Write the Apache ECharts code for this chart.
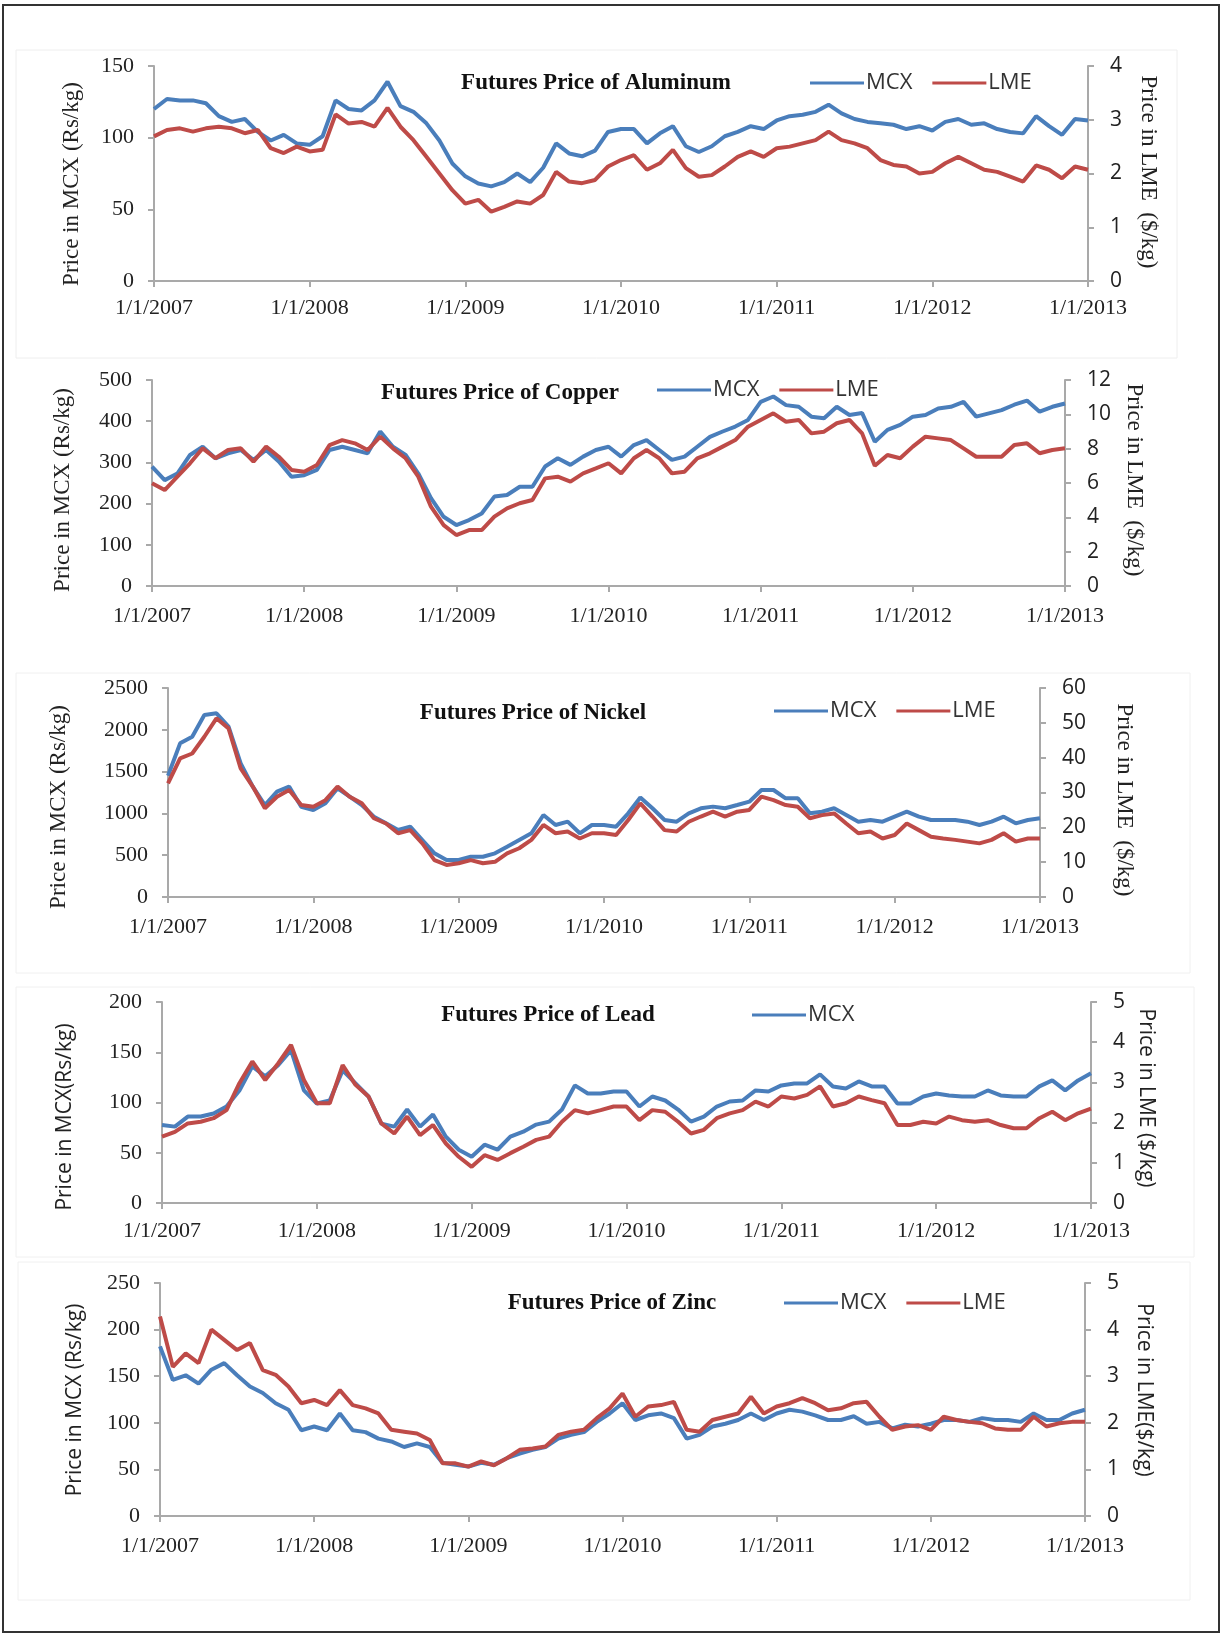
<!DOCTYPE html>
<html>
<head>
<meta charset="utf-8">
<title>Futures Price MCX vs LME</title>
<script src="https://cdn.jsdelivr.net/npm/echarts@6/dist/echarts.min.js"></script>
<style>
  html, body { margin: 0; padding: 0; background: #fff; }
  #main { width: 1225px; height: 1638px; }
</style>
</head>
<body>
<div id="main"></div>
<script>
// monthly readings, Jan 2007 .. Jan 2013 (73 points each)
var xTickLabels = ['1/1/2007', '1/1/2008', '1/1/2009', '1/1/2010', '1/1/2011', '1/1/2012', '1/1/2013'];

// Aluminum
var alMcx = [120, 127, 126, 126, 124, 115, 111, 113, 104, 98, 102, 96,
             95, 101, 126, 120, 119, 126, 139, 122, 118, 110, 98, 82,
             73, 68, 66, 69, 75, 69, 79, 96, 89, 87, 91, 104,
             106, 106, 96, 103, 108, 94, 90, 94, 101, 104, 108, 106,
             112, 115, 116, 118, 123, 117, 113, 111, 110, 109, 106, 108,
             105, 111, 113, 109, 110, 106, 104, 103, 115, 108, 102, 113,
             112];
var alLme = [2.69, 2.81, 2.84, 2.78, 2.84, 2.87, 2.84, 2.75, 2.81, 2.47, 2.38, 2.50,
             2.41, 2.44, 3.10, 2.93, 2.96, 2.87, 3.22, 2.87, 2.62, 2.31, 2.00, 1.69,
             1.44, 1.51, 1.29, 1.38, 1.48, 1.44, 1.60, 2.03, 1.85, 1.82, 1.88, 2.13,
             2.25, 2.34, 2.07, 2.19, 2.44, 2.10, 1.94, 1.97, 2.13, 2.31, 2.41, 2.31,
             2.47, 2.50, 2.56, 2.62, 2.78, 2.62, 2.56, 2.47, 2.25, 2.16, 2.13, 2.00,
             2.03, 2.19, 2.31, 2.19, 2.07, 2.03, 1.94, 1.85, 2.15, 2.07, 1.91, 2.13,
             2.07];

// Copper
var cuMcx = [290, 257, 273, 318, 338, 310, 322, 330, 306, 330, 302, 265,
             269, 282, 330, 338, 330, 322, 375, 338, 318, 273, 213, 168,
             148, 160, 176, 217, 221, 241, 241, 290, 310, 294, 314, 330,
             338, 314, 342, 354, 330, 306, 314, 338, 362, 375, 387, 403,
             447, 460, 439, 435, 411, 407, 435, 415, 420, 350, 379, 391,
             411, 415, 431, 435, 447, 411, 419, 427, 440, 450, 423, 435,
             443];
var cuLme = [5.98, 5.59, 6.37, 7.15, 8.02, 7.44, 7.92, 8.02, 7.24, 8.12, 7.53, 6.76,
             6.66, 7.05, 8.21, 8.50, 8.31, 7.92, 8.70, 8.02, 7.44, 6.37, 4.62, 3.55,
             2.97, 3.26, 3.26, 4.04, 4.52, 4.82, 5.01, 6.27, 6.37, 6.08, 6.56, 6.85,
             7.15, 6.56, 7.44, 7.92, 7.44, 6.56, 6.66, 7.44, 7.73, 8.12, 8.50, 9.28,
             9.67, 10.06, 9.57, 9.67, 8.89, 8.99, 9.48, 9.67, 8.89, 7.00, 7.63, 7.44,
             8.12, 8.70, 8.60, 8.50, 8.02, 7.53, 7.53, 7.53, 8.21, 8.31, 7.73, 7.92,
             8.02];

// Nickel
var niMcx = [1450, 1838, 1918, 2177, 2197, 2037, 1599, 1320, 1100, 1260, 1320, 1080,
             1041, 1120, 1300, 1200, 1100, 961, 881, 801, 841, 682, 522, 443,
             443, 482, 482, 522, 602, 682, 762, 981, 861, 901, 762, 861,
             861, 841, 1001, 1190, 1061, 921, 901, 1001, 1061, 1081, 1061, 1100,
             1140, 1280, 1280, 1180, 1180, 1001, 1021, 1061, 981, 901, 921, 901,
             961, 1021, 961, 921, 921, 921, 901, 861, 901, 961, 881, 921,
             941];
var niLme = [32.6, 39.8, 41.2, 46.0, 51.3, 48.4, 36.9, 31.7, 25.5, 28.8, 30.7, 26.4,
             25.9, 27.8, 31.7, 28.8, 26.9, 22.6, 21.1, 18.3, 19.2, 15.4, 10.6, 9.2,
             9.7, 10.6, 9.7, 10.1, 12.5, 14.0, 16.4, 20.7, 18.3, 18.8, 16.8, 18.3,
             18.3, 17.8, 22.1, 26.9, 23.1, 19.2, 18.8, 21.6, 23.1, 24.5, 23.1, 24.5,
             25.0, 28.8, 27.8, 26.4, 25.9, 22.6, 23.5, 24.0, 21.1, 18.3, 18.8, 16.8,
             17.8, 21.1, 19.2, 17.3, 16.8, 16.4, 15.9, 15.4, 16.4, 18.3, 15.9, 16.8,
             16.8];

// Lead
var pbMcx = [77.6, 76, 86, 86, 89, 96, 112, 136, 126, 137, 152, 112,
             99, 102, 132, 119, 106, 79, 76, 93, 76, 88, 66, 53,
             46, 58, 53, 66, 71, 78, 81, 93, 117, 109, 109, 111,
             111, 96, 106, 102, 93, 81, 86, 96, 101, 102, 112, 111,
             117, 119, 119, 128, 116, 114, 121, 116, 116, 99, 99, 106,
             109, 107, 106, 106, 112, 107, 106, 106, 116, 122, 112, 122,
             129];
var pbLme = [1.65, 1.77, 1.98, 2.02, 2.11, 2.31, 2.98, 3.52, 3.06, 3.47, 3.93, 3.06,
             2.48, 2.48, 3.43, 2.94, 2.65, 1.98, 1.73, 2.15, 1.69, 1.94, 1.48, 1.15,
             0.90, 1.19, 1.07, 1.24, 1.40, 1.57, 1.65, 2.02, 2.31, 2.23, 2.31, 2.40,
             2.40, 2.06, 2.31, 2.27, 2.02, 1.73, 1.82, 2.11, 2.23, 2.31, 2.52, 2.40,
             2.65, 2.60, 2.69, 2.90, 2.40, 2.48, 2.65, 2.56, 2.48, 1.94, 1.94, 2.02,
             1.98, 2.15, 2.06, 2.02, 2.06, 1.94, 1.86, 1.86, 2.11, 2.27, 2.06, 2.23,
             2.35];

// Zinc
var znMcx = [182, 146, 151, 142, 157, 164, 151, 139, 132, 121, 114, 92,
             96, 92, 110, 92, 90, 83, 80, 74, 78, 74, 57, 55,
             53, 57, 55, 62, 67, 71, 74, 83, 87, 90, 101, 110,
             121, 103, 108, 110, 105, 83, 87, 96, 99, 103, 110, 103,
             110, 114, 112, 108, 103, 103, 107, 99, 101, 94, 98, 96,
             99, 103, 103, 101, 105, 103, 103, 101, 110, 103, 103, 110,
             114];
var znLme = [4.28, 3.20, 3.49, 3.28, 4.00, 3.78, 3.56, 3.71, 3.13, 3.03, 2.78, 2.42,
             2.49, 2.38, 2.70, 2.38, 2.31, 2.20, 1.85, 1.81, 1.77, 1.63, 1.13, 1.13,
             1.06, 1.17, 1.09, 1.24, 1.42, 1.45, 1.49, 1.74, 1.81, 1.85, 2.10, 2.31,
             2.63, 2.13, 2.35, 2.38, 2.45, 1.85, 1.81, 2.06, 2.13, 2.20, 2.56, 2.20,
             2.35, 2.42, 2.53, 2.42, 2.27, 2.31, 2.42, 2.45, 2.13, 1.85, 1.92, 1.95,
             1.85, 2.13, 2.06, 2.02, 1.99, 1.88, 1.85, 1.85, 2.13, 1.92, 1.99, 2.02,
             2.02];

var metals = [
  { title: 'Futures Price of Aluminum', mcx: alMcx, lme: alLme, lMax: 150, lStep: 50, rMax: 4, rStep: 1,
    legend: ['MCX', 'LME'], leftName: 'Price in MCX (Rs/kg)', rightName: 'Price in LME  ($/kg)', sans: false },
  { title: 'Futures Price of Copper', mcx: cuMcx, lme: cuLme, lMax: 500, lStep: 100, rMax: 12, rStep: 2,
    legend: ['MCX', 'LME'], leftName: 'Price in MCX (Rs/kg)', rightName: 'Price in LME  ($/kg)', sans: false },
  { title: 'Futures Price of Nickel', mcx: niMcx, lme: niLme, lMax: 2500, lStep: 500, rMax: 60, rStep: 10,
    legend: ['MCX', 'LME'], leftName: 'Price in MCX (Rs/kg)', rightName: 'Price in LME  ($/kg)', sans: false },
  { title: 'Futures Price of Lead', mcx: pbMcx, lme: pbLme, lMax: 200, lStep: 50, rMax: 5, rStep: 1,
    legend: ['MCX'], leftName: 'Price in MCX(Rs/kg)', rightName: 'Price in LME ($/kg)', sans: true },
  { title: 'Futures Price of Zinc', mcx: znMcx, lme: znLme, lMax: 250, lStep: 50, rMax: 5, rStep: 1,
    legend: ['MCX', 'LME'], leftName: 'Price in MCX (Rs/kg)', rightName: 'Price in LME($/kg)', sans: true }
];

// pixel layout of each panel
var layout = [
  { left: 154, right: 1088, top: 66, bottom: 281, titleX: 591, titleY: 80, legX: 805, legY: 80, lnX: 72, lnY: 184, rnX: 1148, rnY: 172, xm: 16 },
  { left: 152, right: 1065, top: 380, bottom: 586, titleX: 495, titleY: 390, legX: 652, legY: 387, lnX: 63, lnY: 490, rnX: 1134, rnY: 480, xm: 19 },
  { left: 168, right: 1040, top: 688, bottom: 897, titleX: 528, titleY: 710, legX: 769, legY: 708, lnX: 59, lnY: 807, rnX: 1124, rnY: 800, xm: 19 },
  { left: 162, right: 1091, top: 1002, bottom: 1203, titleX: 543, titleY: 1012, legX: 747, legY: 1012, lnX: 65, lnY: 1117, rnX: 1146, rnY: 1098, xm: 17 },
  { left: 160, right: 1085, top: 1283, bottom: 1516, titleX: 607, titleY: 1300, legX: 779, legY: 1300, lnX: 75, lnY: 1400, rnX: 1144, rnY: 1390, xm: 19 }
];

var BLUE = '#4a7ebb', RED = '#be4b48';
var SERIF = '"Liberation Serif", "Times New Roman", serif';
var SANS = '"Open Sans", "Liberation Sans", sans-serif';
var axisLine = { show: true, lineStyle: { color: '#a9a9a9', width: 2 } };
var axisTick = { show: true, length: 6, lineStyle: { color: '#a9a9a9', width: 2 } };

function pairs(arr) {
  return arr.map(function (v, i) { return [2007 + i / 12, v]; });
}

var grids = [], xAxes = [], yAxes = [], series = [], titles = [], legends = [], graphics = [];

// outer frame and faint panel frames
graphics.push({ type: 'rect', shape: { x: 3, y: 5, width: 1216, height: 1627 },
  style: { fill: 'none', stroke: '#333', lineWidth: 2 }, silent: true });
graphics.push({ type: 'rect', shape: { x: 16, y: 50, width: 1161, height: 308 },
  style: { fill: 'none', stroke: '#eeeeee', lineWidth: 1 }, silent: true });
graphics.push({ type: 'rect', shape: { x: 16, y: 673, width: 1174, height: 300 },
  style: { fill: 'none', stroke: '#f0f0f0', lineWidth: 1 }, silent: true });
graphics.push({ type: 'rect', shape: { x: 16, y: 987, width: 1178, height: 270 },
  style: { fill: 'none', stroke: '#f0f0f0', lineWidth: 1 }, silent: true });
graphics.push({ type: 'rect', shape: { x: 18, y: 1262, width: 1172, height: 338 },
  style: { fill: 'none', stroke: '#f0f0f0', lineWidth: 1 }, silent: true });

metals.forEach(function (m, k) {
  var L = layout[k];
  grids.push({ left: L.left, width: L.right - L.left, top: L.top, height: L.bottom - L.top,
    containLabel: false, outerBoundsMode: 'none' });

  xAxes.push({
    type: 'value', gridIndex: k, min: 2007, max: 2013, interval: 1,
    axisLine: axisLine, axisTick: axisTick, splitLine: { show: false },
    axisLabel: { margin: L.xm, color: '#222', fontFamily: SERIF, fontSize: 22,
      formatter: function (v) { return xTickLabels[Math.round(v) - 2007]; } }
  });

  yAxes.push({
    type: 'value', gridIndex: k, position: 'left', min: 0, max: m.lMax, interval: m.lStep,
    axisLine: axisLine, axisTick: axisTick, splitLine: { show: false },
    axisLabel: { margin: 20, color: '#222', fontFamily: SERIF, fontSize: 22,
      formatter: function (v) { return String(v); } }
  });
  yAxes.push({
    type: 'value', gridIndex: k, position: 'right', min: 0, max: m.rMax, interval: m.rStep,
    axisLine: axisLine, axisTick: axisTick, splitLine: { show: false },
    axisLabel: { margin: 22, color: '#222', fontFamily: SANS, fontSize: 21,
      formatter: function (v) { return String(v); } }
  });

  series.push({
    name: 'MCX', type: 'line', xAxisIndex: k, yAxisIndex: 2 * k, data: pairs(m.mcx),
    showSymbol: false, lineStyle: { color: BLUE, width: 4 }, itemStyle: { color: BLUE },
    animation: false, silent: true
  });
  series.push({
    name: 'LME', type: 'line', xAxisIndex: k, yAxisIndex: 2 * k + 1, data: pairs(m.lme),
    showSymbol: false, lineStyle: { color: RED, width: 4 }, itemStyle: { color: RED },
    animation: false, silent: true
  });

  titles.push({
    text: m.title, left: L.titleX, top: L.titleY - 13, textAlign: 'center',
    textStyle: { fontFamily: SERIF, fontWeight: 'bold', fontSize: 23, color: '#111' }
  });

  legends.push({
    data: m.legend, left: L.legX, top: L.legY - 13, icon: 'rect', itemWidth: 54, itemHeight: 3,
    itemGap: 20, selectedMode: false,
    textStyle: { fontFamily: SANS, fontSize: 22, color: '#333', padding: [0, 0, 0, -3] }
  });

  var nameFont = m.sans ? SANS : SERIF;
  graphics.push({ type: 'text', x: L.lnX, y: L.lnY, rotation: Math.PI / 2, silent: true,
    style: { text: m.leftName, align: 'center', verticalAlign: 'middle',
      fontFamily: nameFont, fontSize: m.sans ? 21 : 23, fill: '#222' } });
  graphics.push({ type: 'text', x: L.rnX, y: L.rnY, rotation: -Math.PI / 2, silent: true,
    style: { text: m.rightName, align: 'center', verticalAlign: 'middle',
      fontFamily: nameFont, fontSize: m.sans ? 21 : 23, fill: '#222' } });
});

var chart = echarts.init(document.getElementById('main'));
chart.setOption({
  backgroundColor: '#fff',
  animation: false,
  title: titles,
  legend: legends,
  grid: grids,
  xAxis: xAxes,
  yAxis: yAxes,
  series: series,
  graphic: graphics
});
</script>
</body>
</html>
